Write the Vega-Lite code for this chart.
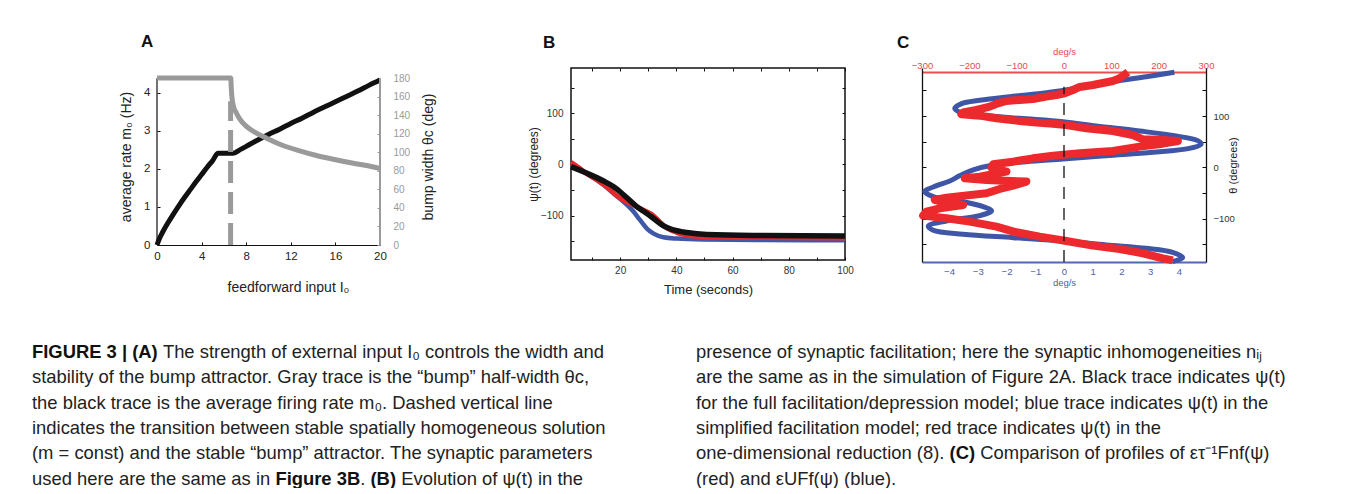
{
  "$schema": "https://vega.github.io/schema/vega-lite/v6.json",
  "background": "white",
  "padding": {"left": 32, "top": 32, "right": 0, "bottom": 0},
  "columns": 4,
  "align": "none",
  "bounds": "flush",
  "spacing": {"row": 90, "column": 77},
  "config": {
    "font": "Liberation Sans",
    "view": {"stroke": null},
    "axis": {"labelFont": "Liberation Sans", "titleFont": "Liberation Sans", "labelFlush": false, "labelOverlap": false, "grid": false, "titleFontWeight": "normal", "domainColor": "#111", "tickColor": "#111", "labelColor": "#222", "titleColor": "#222", "labelFontSize": 10, "titleFontSize": 12},
    "title": {"font": "Liberation Sans", "fontWeight": "bold", "fontSize": 17, "anchor": "start", "frame": "group", "color": "#111"},
    "line": {"strokeJoin": "round"}
  },
  "datasets": {
    "one": [{"k": 1}],
    "rateA": [{"I":0,"r":0},{"I":0.25,"r":0.188},{"I":0.5,"r":0.334},{"I":1,"r":0.591},{"I":1.5,"r":0.825},{"I":2,"r":1.049},{"I":2.5,"r":1.26},{"I":3,"r":1.46},{"I":3.5,"r":1.66},{"I":4,"r":1.85},{"I":4.5,"r":2.04},{"I":5,"r":2.22},{"I":5.48,"r":2.41},{"I":6.83,"r":2.41},{"I":7.5,"r":2.51},{"I":8,"r":2.59},{"I":9,"r":2.75},{"I":10,"r":2.9},{"I":11,"r":3.04},{"I":12,"r":3.19},{"I":13,"r":3.33},{"I":14,"r":3.48},{"I":15,"r":3.62},{"I":16,"r":3.76},{"I":17,"r":3.9},{"I":18,"r":4.04},{"I":19,"r":4.19},{"I":20,"r":4.33}],
    "widthA": [{"I":0,"w":180},{"I":6.62,"w":180},{"I":6.65,"w":172},{"I":6.7,"w":162},{"I":6.83,"w":151},{"I":7.13,"w":142},{"I":7.43,"w":135.7},{"I":8.02,"w":127.8},{"I":8.92,"w":120.6},{"I":9.82,"w":115.2},{"I":11.3,"w":107.3},{"I":12.8,"w":101.5},{"I":14.3,"w":96.5},{"I":15.8,"w":92.5},{"I":17.6,"w":88.2},{"I":18.8,"w":85.7},{"I":20,"w":82.5}],
    "B": [
      {"m":"full","t":2.5,"psi":-4.6},{"m":"full","t":8.2,"psi":-17.6},{"m":"full","t":14.1,"psi":-32.7},{"m":"full","t":17.7,"psi":-43.8},{"m":"full","t":20,"psi":-53.6},{"m":"full","t":22.4,"psi":-65.4},{"m":"full","t":26,"psi":-83},{"m":"full","t":29.5,"psi":-96},{"m":"full","t":31.9,"psi":-105.9},{"m":"full","t":35.4,"psi":-120.3},{"m":"full","t":39,"psi":-128.1},{"m":"full","t":43.7,"psi":-133.3},{"m":"full","t":50.8,"psi":-137.3},{"m":"full","t":67.4,"psi":-139.2},{"m":"full","t":100,"psi":-139.9},
      {"m":"simp","t":2.5,"psi":-2.6},{"m":"simp","t":8.2,"psi":-18.3},{"m":"simp","t":14.1,"psi":-40.5},{"m":"simp","t":17.7,"psi":-56.9},{"m":"simp","t":21.2,"psi":-73.2},{"m":"simp","t":24.8,"psi":-92.8},{"m":"simp","t":27.1,"psi":-109.2},{"m":"simp","t":29.5,"psi":-125.5},{"m":"simp","t":31.9,"psi":-135.3},{"m":"simp","t":35.4,"psi":-142.5},{"m":"simp","t":40.2,"psi":-145.1},{"m":"simp","t":49.7,"psi":-147},{"m":"simp","t":70,"psi":-148},{"m":"simp","t":100,"psi":-148.4},
      {"m":"red","t":2.5,"psi":3.9},{"m":"red","t":5.2,"psi":-6.5},{"m":"red","t":8.2,"psi":-18.3},{"m":"red","t":14.1,"psi":-39.2},{"m":"red","t":16.5,"psi":-50.3},{"m":"red","t":18.8,"psi":-61.4},{"m":"red","t":21.2,"psi":-69.9},{"m":"red","t":24.8,"psi":-79.7},{"m":"red","t":28.3,"psi":-89.5},{"m":"red","t":31.3,"psi":-98},{"m":"red","t":34.3,"psi":-113.7},{"m":"red","t":36.6,"psi":-124.2},{"m":"red","t":40.2,"psi":-133.3},{"m":"red","t":46.1,"psi":-139.9},{"m":"red","t":55.6,"psi":-142.5},{"m":"red","t":100,"psi":-143.8}
    ],
    "Cb": [{"i":1,"th":185.2,"v":3.84},{"i":2,"th":176.7,"v":2.86},{"i":3,"th":167,"v":1.7},{"i":4,"th":155.3,"v":0.54},{"i":5,"th":145.5,"v":-0.61},{"i":6,"th":138.4,"v":-1.77},{"i":7,"th":130.6,"v":-2.93},{"i":8,"th":124.1,"v":-3.56},{"i":9,"th":115,"v":-3.8},{"i":10,"th":107.2,"v":-3.62},{"i":11,"th":102,"v":-2.93},{"i":12,"th":95.5,"v":-1.54},{"i":13,"th":89,"v":-0.03},{"i":14,"th":80.6,"v":1.12},{"i":15,"th":70.8,"v":2.63},{"i":16,"th":61.1,"v":3.9},{"i":17,"th":52,"v":4.65},{"i":18,"th":45.5,"v":4.77},{"i":19,"th":37,"v":4.36},{"i":20,"th":29.2,"v":3.09},{"i":21,"th":22.7,"v":1.47},{"i":22,"th":16.2,"v":-0.03},{"i":23,"th":11,"v":-1.31},{"i":24,"th":4.5,"v":-2.47},{"i":25,"th":-5.2,"v":-3.16},{"i":26,"th":-16.2,"v":-3.62},{"i":27,"th":-26.6,"v":-3.97},{"i":28,"th":-35.7,"v":-4.43},{"i":29,"th":-47.4,"v":-4.84},{"i":30,"th":-57.2,"v":-4.55},{"i":31,"th":-65.6,"v":-3.62},{"i":32,"th":-76.7,"v":-2.81},{"i":33,"th":-85.1,"v":-2.52},{"i":34,"th":-94.2,"v":-2.93},{"i":35,"th":-104.6,"v":-4.09},{"i":36,"th":-114.4,"v":-4.72},{"i":37,"th":-122.8,"v":-4.55},{"i":38,"th":-130.6,"v":-3.51},{"i":39,"th":-137.1,"v":-1.77},{"i":40,"th":-143.6,"v":-0.03},{"i":41,"th":-151.4,"v":1.47},{"i":42,"th":-157.9,"v":2.86},{"i":43,"th":-165.7,"v":3.78},{"i":44,"th":-176.1,"v":4.13},{"i":45,"th":-183.9,"v":3.78}],
    "Cr": [{"i":1,"th":185.5,"v":135.1},{"i":2,"th":173.5,"v":117.5},{"i":3,"th":168.3,"v":103.4},{"i":4,"th":160.5,"v":61.2},{"i":5,"th":156.6,"v":33.1},{"i":6,"th":150.7,"v":19},{"i":7,"th":144.3,"v":1.4},{"i":8,"th":141,"v":-16.2},{"i":9,"th":137.8,"v":-37.3},{"i":10,"th":133.2,"v":-65.4},{"i":11,"th":131.3,"v":-93.6},{"i":12,"th":129.3,"v":-121.7},{"i":13,"th":124.8,"v":-139.3},{"i":14,"th":118.3,"v":-156.9},{"i":15,"th":111.8,"v":-185},{"i":16,"th":107.2,"v":-213.1},{"i":17,"th":103.3,"v":-216.7},{"i":18,"th":100.7,"v":-178},{"i":19,"th":95.5,"v":-142.8},{"i":20,"th":90.3,"v":-93.6},{"i":21,"th":87.1,"v":-58.4},{"i":22,"th":85.1,"v":-23.2},{"i":23,"th":82.5,"v":4.9},{"i":24,"th":76,"v":47.1},{"i":25,"th":70.8,"v":103.4},{"i":26,"th":63,"v":145.6},{"i":27,"th":54.6,"v":166.7},{"i":28,"th":53.3,"v":208.9},{"i":29,"th":51.3,"v":240.6},{"i":30,"th":46.1,"v":208.9},{"i":31,"th":40.3,"v":159.7},{"i":32,"th":31.8,"v":103.4},{"i":33,"th":27.3,"v":33.1},{"i":34,"th":22.7,"v":-23.2},{"i":35,"th":17.5,"v":-65.4},{"i":36,"th":11,"v":-107.6},{"i":37,"th":5.8,"v":-149.8},{"i":38,"th":-0.6,"v":-153.3},{"i":39,"th":-8.4,"v":-121.7},{"i":40,"th":-18.2,"v":-178},{"i":41,"th":-21.4,"v":-209.6},{"i":42,"th":-24.7,"v":-163.9},{"i":43,"th":-27.9,"v":-79.5},{"i":44,"th":-35.7,"v":-107.6},{"i":45,"th":-42.2,"v":-135.8},{"i":46,"th":-50.7,"v":-163.9},{"i":47,"th":-59.1,"v":-248.3},{"i":48,"th":-63.7,"v":-272.9},{"i":49,"th":-73.4,"v":-213.1},{"i":50,"th":-79.9,"v":-262.4},{"i":51,"th":-86.4,"v":-290.5},{"i":52,"th":-94.2,"v":-297.5},{"i":53,"th":-99.4,"v":-248.3},{"i":54,"th":-105.9,"v":-199.1},{"i":55,"th":-115.7,"v":-142.8},{"i":56,"th":-126.7,"v":-100.6},{"i":57,"th":-135.2,"v":-51.3},{"i":58,"th":-143.6,"v":4.9},{"i":59,"th":-152.7,"v":61.2},{"i":60,"th":-159.2,"v":117.5},{"i":61,"th":-167.6,"v":166.7},{"i":62,"th":-177.4,"v":208.9},{"i":63,"th":-181.3,"v":230}],
    "cap": [
      {"col":0,"line":1,"p":"b0","text":"FIGURE 3 | (A)"},
      {"col":0,"line":1,"p":"n1","text":"The strength of external input I₀ controls the width and"},
      {"col":0,"line":2,"p":"n0","text":"stability of the bump attractor. Gray trace is the “bump” half-width θc,"},
      {"col":0,"line":3,"p":"n0","text":"the black trace is the average firing rate m₀. Dashed vertical line"},
      {"col":0,"line":4,"p":"n0","text":"indicates the transition between stable spatially homogeneous solution"},
      {"col":0,"line":5,"p":"n0","text":"(m = const) and the stable “bump” attractor. The synaptic parameters"},
      {"col":0,"line":6,"p":"n0","text":"used here are the same as in"},
      {"col":0,"line":6,"p":"b1","text":"Figure 3B"},
      {"col":0,"line":6,"p":"n2","text":"."},
      {"col":0,"line":6,"p":"b2","text":"(B)"},
      {"col":0,"line":6,"p":"n3","text":"Evolution of ψ(t) in the"},
      {"col":1,"line":1,"p":"n0","text":"presence of synaptic facilitation; here the synaptic inhomogeneities nᵢⱼ"},
      {"col":1,"line":2,"p":"n0","text":"are the same as in the simulation of Figure 2A. Black trace indicates ψ(t)"},
      {"col":1,"line":3,"p":"n0","text":"for the full facilitation/depression model; blue trace indicates ψ(t) in the"},
      {"col":1,"line":4,"p":"n0","text":"simplified facilitation model; red trace indicates ψ(t) in the"},
      {"col":1,"line":5,"p":"n0","text":"one-dimensional reduction (8)."},
      {"col":1,"line":5,"p":"b3","text":"(C)"},
      {"col":1,"line":5,"p":"n4","text":"Comparison of profiles of ετ⁻¹Fnf(ψ)"},
      {"col":1,"line":6,"p":"n0","text":"(red) and εUFf(ψ) (blue)."}
    ]
  },
  "concat": [
    {
      "width": 223, "height": 177,
      "title": {"text": "A", "dx": -16, "offset": 4, "baseline": "alphabetic"},
      "layer": [
        {"data": {"name": "rateA"}, "layer": [
          {"mark": {"type": "line", "color": "#111", "strokeWidth": 5, "interpolate": "monotone"},
           "encoding": {
             "x": {"field": "I", "type": "quantitative", "scale": {"domain": [0, 20], "nice": false, "zero": false},
                   "axis": {"values": [0,2,4,6,8,10,12,14,16,18,20], "labelExpr": "datum.value % 4 === 0 ? datum.label : ''", "title": "feedforward input I₀", "titleFontSize": 14, "titlePadding": 19, "titleX": 131, "labelFontSize": 11.5, "tickSize": -3, "labelPadding": 8, "domainWidth": 1.2}},
             "y": {"field": "r", "type": "quantitative", "scale": {"domain": [0, 4.646], "nice": false, "zero": false},
                   "axis": {"values": [0,1,2,3,4], "domain": false, "tickSize": -3, "labelPadding": 10, "labelFontSize": 11.5, "title": "average rate m₀ (Hz)", "titleFontSize": 14, "titlePadding": 10}}
           }},
          {"data": {"name": "one"}, "mark": {"type": "rule", "color": "#111", "strokeWidth": 1.2},
           "encoding": {"x": {"datum": 0, "type": "quantitative"}, "y": {"datum": 0, "type": "quantitative"}, "y2": {"datum": 4.38}}}
        ]},
        {"data": {"name": "widthA"},
         "mark": {"type": "line", "color": "#9a9a9a", "strokeWidth": 5, "interpolate": "monotone"},
         "encoding": {
           "x": {"field": "I", "type": "quantitative"},
           "y": {"field": "w", "type": "quantitative", "scale": {"domain": [0, 190.8], "nice": false, "zero": false},
                 "axis": {"orient": "right", "values": [0,60,120,180], "domain": false, "tickSize": -3, "tickColor": "#999", "labelColor": "#9a9a9a", "labelFontSize": 10, "labelPadding": 16, "title": "bump width θc (deg)", "titleFontSize": 14, "titleColor": "#222", "titleAngle": 270, "titlePadding": 26}}
         }},
        {"data": {"name": "one"},
         "mark": {"type": "rule", "color": "#9a9a9a", "strokeWidth": 5, "strokeDash": [22, 9]},
         "encoding": {"x": {"datum": 6.6, "type": "quantitative"},
                      "y": {"datum": 0, "type": "quantitative", "scale": {"domain": [0, 190.8], "nice": false, "zero": false},
                            "axis": {"orient": "right", "values": [20,80,140], "domain": false, "tickSize": -3, "tickColor": "#999", "labelColor": "#9a9a9a", "labelFontSize": 10, "labelPadding": 16, "title": null}},
                      "y2": {"datum": 155}}},
        {"data": {"name": "one"},
         "mark": {"type": "rule", "color": "#9a9a9a", "strokeWidth": 2},
         "encoding": {"x": {"datum": 20, "type": "quantitative"},
                      "y": {"datum": 0, "type": "quantitative", "scale": {"domain": [0, 190.8], "nice": false, "zero": false},
                            "axis": {"orient": "right", "values": [40,100,160], "domain": false, "tickSize": -3, "tickColor": "#999", "labelColor": "#9a9a9a", "labelFontSize": 10, "labelPadding": 16, "title": null}},
                      "y2": {"datum": 180}}}
      ],
      "resolve": {"scale": {"y": "independent"}}
    },
    {"width": 37, "height": 10, "data": {"values": []}, "mark": "point"},
    {
      "width": 274, "height": 192,
      "title": {"text": "B", "dx": -28, "offset": 3, "baseline": "alphabetic"},
      "view": {"stroke": "#111", "strokeWidth": 1.5},
      "data": {"name": "B"},
      "layer": [
        {"transform": [{"filter": "datum.m === 'simp'"}],
         "mark": {"type": "line", "color": "#4058a8", "strokeWidth": 4.5, "interpolate": "monotone"},
         "encoding": {
           "x": {"field": "t", "type": "quantitative", "scale": {"domain": [2.5, 100], "nice": false, "zero": false},
                 "axis": {"values": [20,40,60,80,100], "domain": false, "tickSize": -3, "labelPadding": 8, "labelFontSize": 10, "labelColor": "#333", "title": "Time (seconds)", "titleFontSize": 13, "titlePadding": 8}},
           "y": {"field": "psi", "type": "quantitative", "scale": {"domain": [-186.9, 188.1], "nice": false, "zero": false},
                 "axis": {"values": [-100,0,100], "domain": false, "tickSize": -3, "labelPadding": 11, "labelFontSize": 10, "labelColor": "#333", "title": "ψ(t)  (degrees)", "titleFontSize": 12, "titlePadding": 0}}
         }},
        {"transform": [{"filter": "datum.m === 'red'"}],
         "mark": {"type": "line", "color": "#e5282c", "strokeWidth": 5, "interpolate": "monotone"},
         "encoding": {
           "x": {"field": "t", "type": "quantitative", "scale": {"domain": [2.5, 100], "nice": false, "zero": false},
                 "axis": {"orient": "bottom", "values": [10,30,50,70,90], "labels": false, "domain": false, "tickSize": -3, "title": null}},
           "y": {"field": "psi", "type": "quantitative", "scale": {"domain": [-186.9, 188.1], "nice": false, "zero": false},
                 "axis": {"orient": "left", "values": [-150,-50,50,150], "labels": false, "domain": false, "tickSize": -3, "title": null}}
         }},
        {"transform": [{"filter": "datum.m === 'full'"}],
         "mark": {"type": "line", "color": "#111", "strokeWidth": 5.5, "interpolate": "monotone"},
         "encoding": {
           "x": {"field": "t", "type": "quantitative", "scale": {"domain": [2.5, 100], "nice": false, "zero": false},
                 "axis": {"orient": "top", "values": [10,20,30,40,50,60,70,80,90,100], "labels": false, "domain": false, "tickSize": -3, "title": null}},
           "y": {"field": "psi", "type": "quantitative", "scale": {"domain": [-186.9, 188.1], "nice": false, "zero": false},
                 "axis": {"orient": "right", "values": [-150,-100,-50,0,50,100,150], "labels": false, "domain": false, "tickSize": -3, "title": null}}
         }}
      ],
      "resolve": {"scale": {"x": "independent", "y": "independent"}}
    },
    {
      "width": 284, "height": 194,
      "title": {"text": "C", "dx": -25, "offset": -19, "baseline": "alphabetic"},
      "layer": [
        {"data": {"name": "Cb"},
         "mark": {"type": "line", "color": "#3f56a6", "strokeWidth": 5, "interpolate": "catmull-rom"},
         "encoding": {
           "x": {"field": "v", "type": "quantitative", "scale": {"domain": [-4.94, 4.94], "nice": false, "zero": false},
                 "axis": {"values": [-4,-3,-2,-1,0,1,2,3,4], "ticks": false, "domainColor": "#5468b2", "domainWidth": 2, "labelColor": "#4d60aa", "labelFontSize": 9.5, "labelPadding": 4, "title": "deg/s", "titleColor": "#4d60aa", "titleFontSize": 9.5, "titlePadding": 2}},
           "y": {"field": "th", "type": "quantitative", "scale": {"domain": [-184.6, 193.6], "nice": false, "zero": false},
                 "axis": {"values": [-150,-100,-50,0,50,100,150], "labels": false, "tickSize": -4, "domainWidth": 1.3, "title": null}},
           "order": {"field": "i", "type": "quantitative"}
         }},
        {"data": {"name": "Cr"},
         "mark": {"type": "line", "color": "#ec2a2e", "strokeWidth": 8},
         "encoding": {
           "x": {"field": "v", "type": "quantitative", "scale": {"domain": [-300, 300], "nice": false, "zero": false},
                 "axis": {"orient": "top", "offset": -4, "values": [-300,-200,-100,0,100,200,300], "ticks": false, "domainColor": "#e85050", "domainWidth": 2, "labelColor": "#e84a4a", "labelFontSize": 9.5, "labelPadding": 2, "title": "deg/s", "titleColor": "#e84a4a", "titleFontSize": 9.5, "titlePadding": 4}},
           "y": {"field": "th", "type": "quantitative", "scale": {"domain": [-184.6, 193.6], "nice": false, "zero": false},
                 "axis": {"orient": "right", "values": [-100,0,100], "tickSize": -4, "domainWidth": 1.3, "labelFontSize": 9.5, "labelColor": "#333", "labelPadding": 11, "title": "θ (degrees)", "titleFontSize": 11, "titleAngle": 270, "titlePadding": 4}},
           "order": {"field": "i", "type": "quantitative"}
         }},
        {"data": {"name": "one"},
         "mark": {"type": "rule", "color": "#111", "strokeWidth": 1.3, "strokeDash": [12, 9]},
         "encoding": {
           "x": {"datum": 0, "type": "quantitative", "scale": {"domain": [-1, 1], "nice": false, "zero": false}, "axis": null},
           "y": {"datum": -184.6, "type": "quantitative", "scale": {"domain": [-184.6, 193.6], "nice": false, "zero": false},
                 "axis": {"orient": "right", "values": [-150,-50,50,150], "labels": false, "domain": false, "tickSize": -4, "title": null}},
           "y2": {"datum": 157}
         }}
      ],
      "resolve": {"scale": {"x": "independent", "y": "independent"}}
    },
    {
      "width": 200, "height": 126.5,
      "data": {"name": "cap"},
      "encoding": {
        "x": {"field": "col", "type": "quantitative", "scale": {"domain": [0, 1], "range": [0, 664], "nice": false, "zero": false}, "axis": null},
        "y": {"field": "line", "type": "quantitative", "scale": {"domain": [1, 6], "reverse": true, "nice": false, "zero": false}, "axis": null},
        "text": {"field": "text"}
      },
      "layer": [
        {"transform": [{"filter": "datum.p === 'n0'"}], "mark": {"type": "text", "align": "left", "baseline": "middle", "fontSize": 18.4, "color": "#222", "dx": -125}},
        {"transform": [{"filter": "datum.p === 'b0'"}], "mark": {"type": "text", "align": "left", "baseline": "middle", "fontSize": 18.4, "fontWeight": "bold", "color": "#111", "dx": -125}},
        {"transform": [{"filter": "datum.p === 'n1'"}], "mark": {"type": "text", "align": "left", "baseline": "middle", "fontSize": 18.4, "color": "#222", "dx": 5.9}},
        {"transform": [{"filter": "datum.p === 'b1'"}], "mark": {"type": "text", "align": "left", "baseline": "middle", "fontSize": 18.4, "fontWeight": "bold", "color": "#111", "dx": 118.4}},
        {"transform": [{"filter": "datum.p === 'n2'"}], "mark": {"type": "text", "align": "left", "baseline": "middle", "fontSize": 18.4, "color": "#222", "dx": 203.3}},
        {"transform": [{"filter": "datum.p === 'b2'"}], "mark": {"type": "text", "align": "left", "baseline": "middle", "fontSize": 18.4, "fontWeight": "bold", "color": "#111", "dx": 213.5}},
        {"transform": [{"filter": "datum.p === 'n3'"}], "mark": {"type": "text", "align": "left", "baseline": "middle", "fontSize": 18.4, "color": "#222", "dx": 244.2}},
        {"transform": [{"filter": "datum.p === 'b3'"}], "mark": {"type": "text", "align": "left", "baseline": "middle", "fontSize": 18.4, "fontWeight": "bold", "color": "#111", "dx": 128.6}},
        {"transform": [{"filter": "datum.p === 'n4'"}], "mark": {"type": "text", "align": "left", "baseline": "middle", "fontSize": 18.4, "color": "#222", "dx": 159.3}}
      ]
    }
  ]
}
